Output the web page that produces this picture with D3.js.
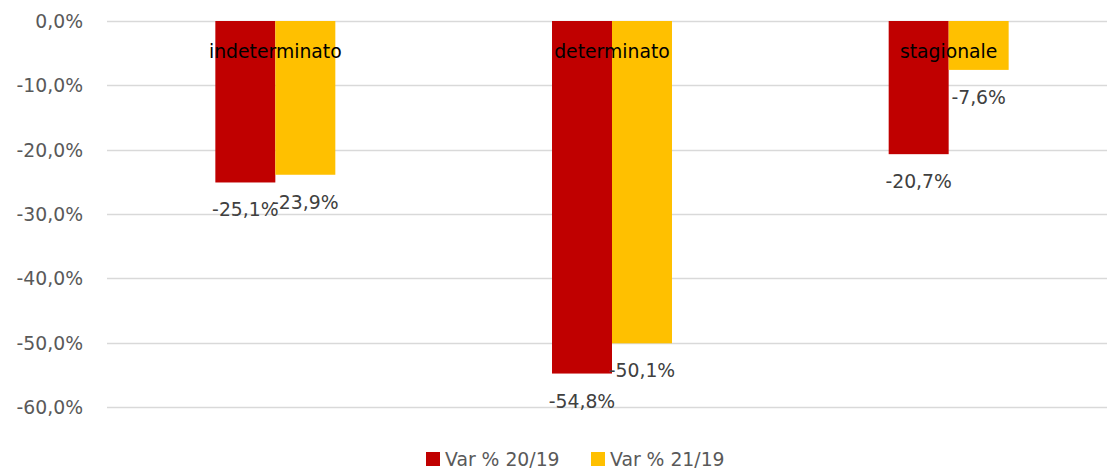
<!DOCTYPE html>
<html>
<head>
<meta charset="utf-8">
<script src="https://cdn.jsdelivr.net/npm/d3@7"></script>
<style>
  body { margin: 0; background: #fff; }
  svg { display: block; font-family: "DejaVu Sans", sans-serif; }
</style>
</head>
<body>
<svg id="chart" width="1107" height="470"></svg>
<script>
// data
var categories = ['indeterminato', 'determinato', 'stagionale']
var seriesNames = ['Var % 20/19', 'Var % 21/19']
var var2019 = [-25.1, -54.8, -20.7]
var var2119 = [-23.9, -50.1, -7.6]
var yTicks = [0, -10, -20, -30, -40, -50, -60]
var colors = ['#C00000', '#FFC000']

var FS = '18.8px'

var svg = d3.select('#chart')

var x0 = d3.scaleBand().domain(categories).range([107, 1117])
var x1 = d3.scaleBand().domain(seriesNames).range([0, x0.bandwidth()]).paddingOuter(1.806)
var y = d3.scaleLinear().domain([-60, 0]).range([407, 21])

var fmt = function(v){ return d3.format('.1f')(v).replace('.', ',').replace('−', '-') + '%' }

// gridlines
svg.append('g').selectAll('line')
  .data(yTicks)
  .enter()
  .append('line')
  .attr('x1', 107).attr('x2', 1107)
  .attr('y1', function(d){ return Math.round(y(d)) + 0.5 })
  .attr('y2', function(d){ return Math.round(y(d)) + 0.5 })
  .attr('stroke', '#D9D9D9')
  .attr('stroke-width', 1.5)

// y axis labels
svg.append('g').selectAll('text')
  .data(yTicks)
  .enter()
  .append('text')
  .attr('x', 83)
  .attr('y', function(d){ return y(d) + 7 })
  .attr('text-anchor', 'end')
  .attr('font-size', FS)
  .attr('fill', '#595959')
  .text(fmt)

var rows = categories.map(function(c, i){
  return {cat: c, vals: [var2019[i], var2119[i]]}
})

var groups = svg.selectAll('g.cat')
  .data(rows)
  .enter()
  .append('g')
  .attr('class', 'cat')
  .attr('transform', function(d){ return 'translate(' + x0(d.cat) + ',0)' })

groups.selectAll('rect')
  .data(function(d){ return d.vals.map(function(v, j){ return {s: seriesNames[j], v: v, j: j} }) })
  .enter()
  .append('rect')
  .attr('x', function(d){ return x1(d.s) })
  .attr('width', x1.bandwidth())
  .attr('y', y(0))
  .attr('height', function(d){ return y(d.v) - y(0) })
  .attr('fill', function(d){ return colors[d.j] })

// category labels (drawn over bars)
groups.append('text')
  .attr('x', x0.bandwidth() / 2)
  .attr('y', 58)
  .attr('text-anchor', 'middle')
  .attr('font-size', FS)
  .attr('fill', '#000')
  .text(function(d){ return d.cat })

// value labels below bar ends
groups.selectAll('text.val')
  .data(function(d){ return d.vals.map(function(v, j){ return {s: seriesNames[j], v: v} }) })
  .enter()
  .append('text')
  .attr('class', 'val')
  .attr('x', function(d){ return x1(d.s) + x1.bandwidth() / 2 })
  .attr('y', function(d){ return y(d.v) + 34 })
  .attr('text-anchor', 'middle')
  .attr('font-size', FS)
  .attr('fill', '#404040')
  .text(function(d){ return fmt(d.v) })

// legend
var legX = [426, 591]
var leg = svg.selectAll('g.leg')
  .data(seriesNames)
  .enter()
  .append('g')
  .attr('class', 'leg')
  .attr('transform', function(d, i){ return 'translate(' + legX[i] + ',452)' })

leg.append('rect')
  .attr('width', 14).attr('height', 14)
  .attr('fill', function(d, i){ return colors[i] })

leg.append('text')
  .attr('x', 19)
  .attr('y', 14)
  .attr('font-size', FS)
  .attr('fill', '#595959')
  .text(function(d){ return d })
</script>
</body>
</html>
